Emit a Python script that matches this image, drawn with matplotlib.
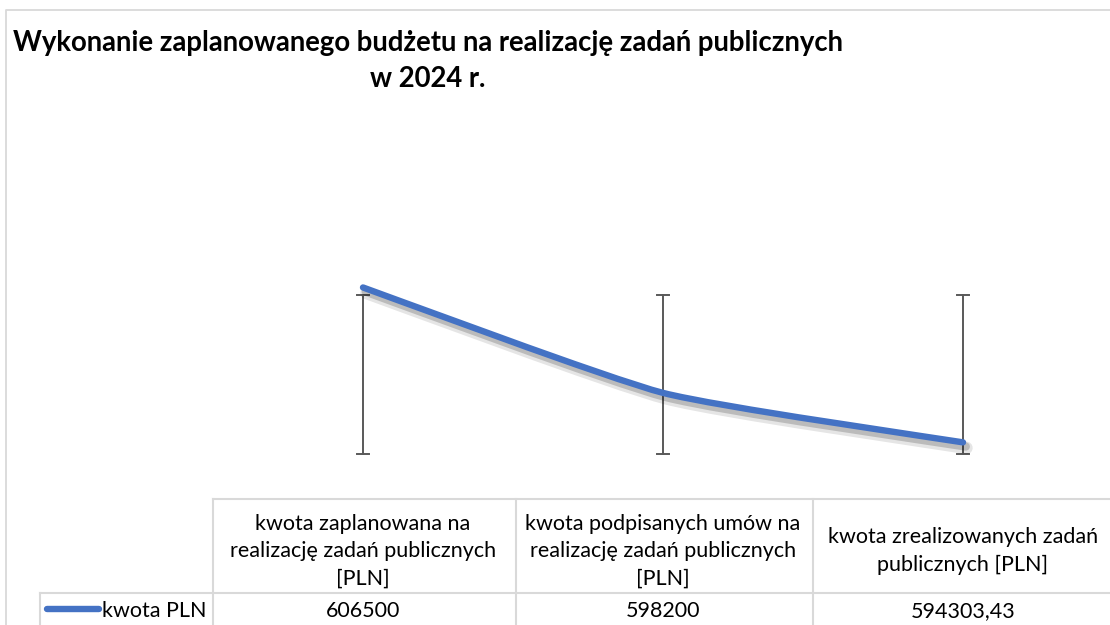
import matplotlib
matplotlib.use("Agg")
import matplotlib.pyplot as plt
import matplotlib.patheffects as pe
from matplotlib.path import Path
from matplotlib.patches import PathPatch
import numpy as np

plt.rcParams["font.family"] = ["Lato", "DejaVu Sans"]

TITLE = "Wykonanie zaplanowanego budżetu na realizację zadań publicznych\nw 2024 r."
CATEGORIES = [
    "kwota zaplanowana na\nrealizację zadań publicznych\n[PLN]",
    "kwota podpisanych umów na\nrealizację zadań publicznych\n[PLN]",
    "kwota zrealizowanych zadań\npublicznych [PLN]",
]
SERIES_NAME = "kwota PLN"
VALUES = [606500, 598200, 594303.43]
VALUE_LABELS = ["606500", "598200", "594303,43"]
BAR_LOW = [593360, 593360, 593360]
BAR_HIGH = [605870, 605870, 605870]

W, H = 1110, 625
BLUE = "#4472C4"
GRID = "#D9D9D9"

fig = plt.figure(figsize=(W / 100, H / 100), dpi=100)

# overlay in pixel coordinates for frame, title and data table
ov = fig.add_axes([0, 0, 1, 1])
ov.set_xlim(0, W)
ov.set_ylim(H, 0)
ov.axis("off")

ov.plot([6, 6, W], [H, 10, 10], color=GRID, lw=1.3)
title_lines = TITLE.split("\n")
ov.text(428, 43, title_lines[0], ha="center", va="center",
        fontsize=19.8, fontweight="bold")
ov.text(428, 79, title_lines[1], ha="center", va="center",
        fontsize=19.8, fontweight="bold")

# plot area
ax = fig.add_axes([213 / W, (H - 465) / H, 900 / W, 335 / H])
x = np.arange(len(VALUES))
ax.set_xlim(-0.5, len(VALUES) - 0.5)
ax.set_ylim(592520, 618900)
ax.axis("off")

# high-low bars
for xi, lo, hi in zip(x, BAR_LOW, BAR_HIGH):
    ax.plot([xi, xi], [lo, hi], color="#595959", lw=1.4, zorder=2)
    ax.plot([xi - 0.02, xi + 0.02], [lo, lo], color="#595959", lw=1.4, zorder=2)
    ax.plot([xi - 0.02, xi + 0.02], [hi, hi], color="#595959", lw=1.4, zorder=2)

# lightly smoothed line through the data points
pts = np.column_stack([x, VALUES]).astype(float)
verts = [pts[0]]
codes = [Path.MOVETO]
t = 0.09
for i in range(len(pts) - 1):
    p0 = pts[max(i - 1, 0)]
    p1 = pts[i]
    p2 = pts[i + 1]
    p3 = pts[min(i + 2, len(pts) - 1)]
    c1 = p1 + (p2 - p0) * t
    c2 = p2 - (p3 - p1) * t
    verts += [c1, c2, p2]
    codes += [Path.CURVE4] * 3
line = PathPatch(Path(verts, codes), facecolor="none", edgecolor=BLUE,
                 lw=4.6, capstyle="round", zorder=3)
line.set_path_effects([
    pe.SimpleLineShadow(offset=(2.5, -4), shadow_color="black", alpha=0.10,
                        linewidth=9),
    pe.SimpleLineShadow(offset=(2, -3), shadow_color="black", alpha=0.18,
                        linewidth=6),
    pe.Normal(),
])
ax.add_patch(line)

# data table
cols = [213, 516, 813, W]
ov.plot([213, W], [499, 499], color=GRID, lw=1.5)
ov.plot([40, W], [593, 593], color=GRID, lw=1.5)
ov.plot([40, 40], [593, H], color=GRID, lw=1.5)
for cx in cols[:-1]:
    ov.plot([cx, cx], [499, H], color=GRID, lw=1.5)

# category centres follow the plot axes
for xi, cat, lab in zip(x, CATEGORIES, VALUE_LABELS):
    px = ov.transData.inverted().transform(ax.transData.transform((xi, 0)))[0]
    ov.text(px, 551, cat, ha="center", va="center", fontsize=15.5,
            linespacing=1.45)
    ov.text(px, 611, lab, ha="center", va="center", fontsize=15.5)

ov.plot([47, 99], [609, 609], color=BLUE, lw=4.6, solid_capstyle="round")
ov.text(102, 611, SERIES_NAME, ha="left", va="center", fontsize=15.5)

fig.savefig("out.png", dpi=100, facecolor="white")
